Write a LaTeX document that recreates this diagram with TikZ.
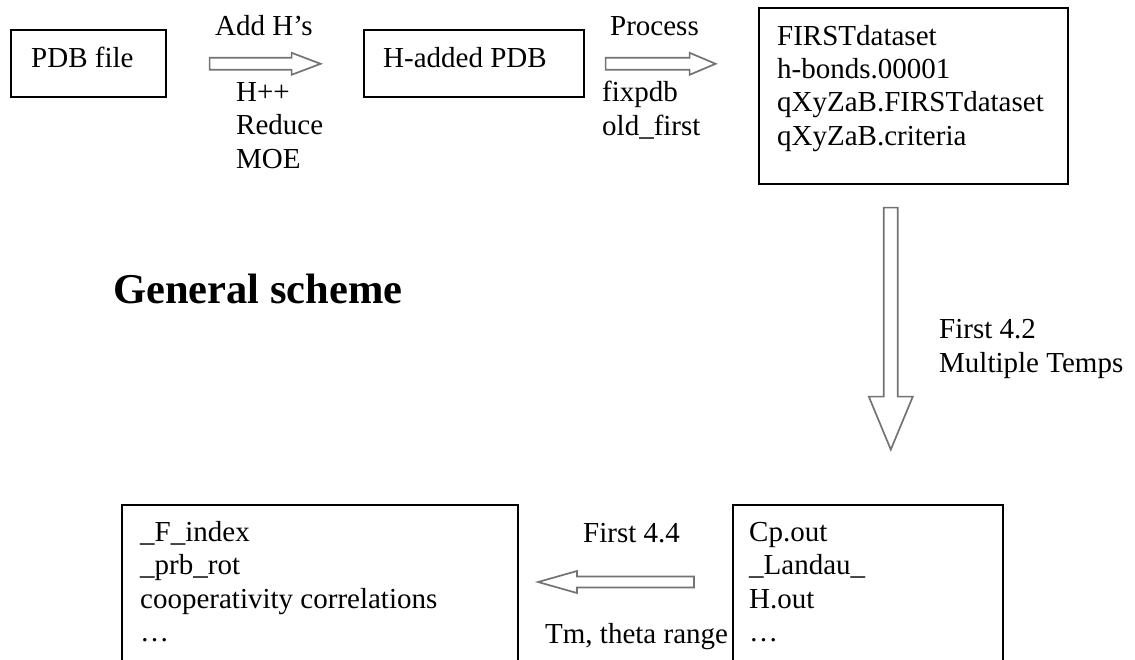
\documentclass[tikz,border=0pt]{standalone}
\usepackage{fontspec}
\setmainfont{Liberation Serif}
\usetikzlibrary{calc}
\tikzset{
  box/.style={draw=black, line width=1.6pt, inner sep=0pt, anchor=north west},
  lbl/.style={inner sep=0pt, anchor=base west, font=\fontsize{29}{33.3}\selectfont, align=left},
  barrow/.style={draw=black!55, line width=1.7pt, fill=white, line join=miter},
}
\begin{document}
\begin{tikzpicture}[x=1pt, y=-1pt]
\useasboundingbox (0,0) rectangle (1135,659);

% file boxes
\node[box, minimum width=155pt, minimum height=67pt] (pdb) at (10,29) {};
\node[box, minimum width=220pt, minimum height=67pt] (had) at (363,29) {};
\node[box, minimum width=309pt, minimum height=176pt] (first) at (758,7) {};
\node[box, minimum width=396pt, minimum height=170pt] (outl) at (121,504) {};
\node[box, minimum width=270pt, minimum height=170pt] (outr) at (732,504) {};

% box contents (multi-line labels are placed by their last baseline)
\node[lbl] (tpdb) at (31,67) {PDB file};
\node[lbl] (thad) at (383,67) {H-added PDB};
\node[lbl] (tfirst) at (777,145) {FIRSTdataset\\h-bonds.00001\\qXyZaB.FIRSTdataset\\qXyZaB.criteria};
\node[lbl] (toutl) at (140,641.5) {\_F\_index\\\_prb\_rot\\cooperativity correlations\\…};
\node[lbl] (toutr) at (749,641.5) {Cp.out\\\_Landau\_\\H.out\\…};

% block arrows between the stages
\coordinate (a1) at ($(pdb.east)+(43,0.5)$);
\draw[barrow] (a1) ++(0,-6) -- ++(82,0) -- ++(0,-5) -- ++(29,11) -- ++(-29,11) -- ++(0,-5) -- ++(-82,0) -- cycle;

\coordinate (a2) at ($(had.east)+(21,0.5)$);
\draw[barrow] (a2) ++(0,-6) -- ++(84,0) -- ++(0,-5) -- ++(26,11) -- ++(-26,11) -- ++(0,-5) -- ++(-84,0) -- cycle;

\coordinate (a3) at ($(first.south)+(-22.5,23)$);
\draw[barrow] (a3) ++(-7,0) -- ++(0,189) -- ++(-15,0) -- ++(22,53) -- ++(22,-53) -- ++(-15,0) -- ++(0,-189) -- cycle;

\coordinate (a4) at ($(outr.north west)+(-38,78)$);
\draw[barrow] (a4) ++(0,-5.5) -- ++(-117,0) -- ++(0,-5.5) -- ++(-39,11) -- ++(39,11) -- ++(0,-5.5) -- ++(117,0) -- cycle;

% arrow labels
\node[lbl] (l1a) at (215,35) {Add H’s};
\node[lbl] (l1b) at (236,168) {H++\\Reduce\\MOE};
\node[lbl] (l2a) at (610,35) {Process};
\node[lbl] (l2b) at (602,135) {fixpdb\\old\_first};
\node[lbl] (l3) at (939,372) {First 4.2\\Multiple Temps};
\node[lbl] (l4a) at (583,542) {First 4.4};
\node[lbl] (l4b) at (545,643) {Tm, theta range};

% title
\node[inner sep=0pt, anchor=base west, font=\fontsize{42.5}{48}\selectfont\bfseries] (title) at (113,303) {General scheme};
\end{tikzpicture}
\end{document}
